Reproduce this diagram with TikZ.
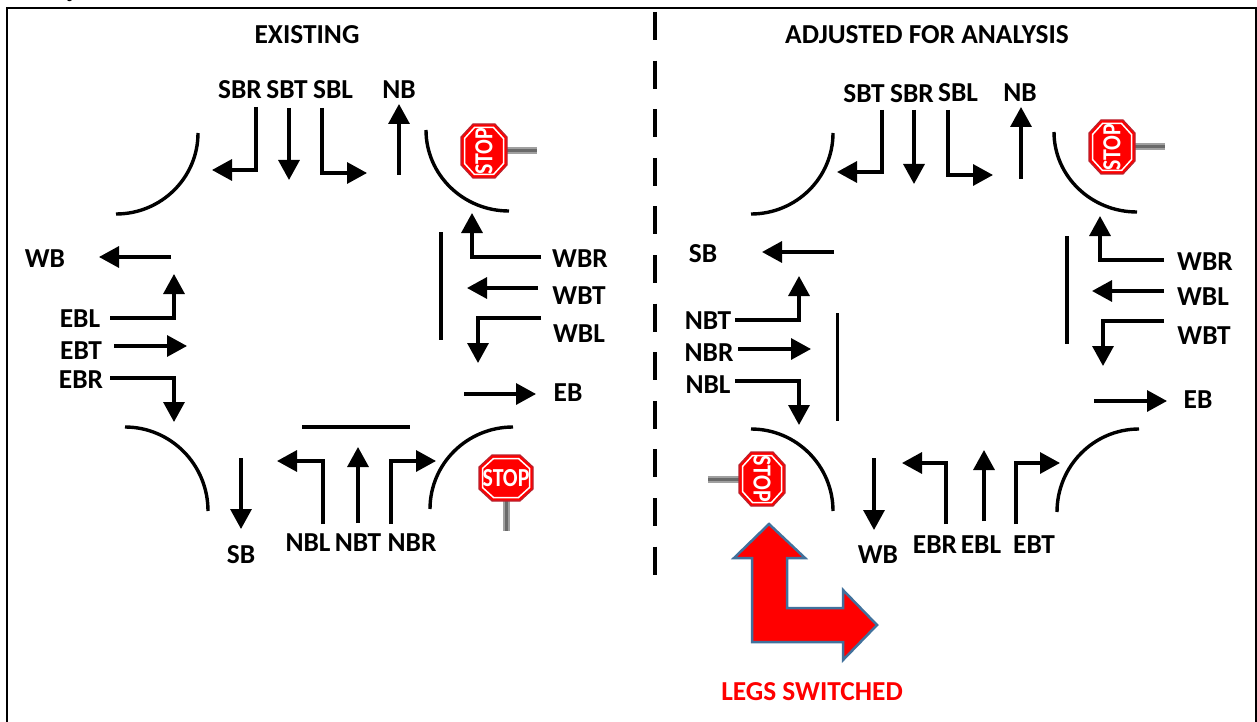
\documentclass[tikz,border=0pt]{standalone}
\usepackage{fontspec}
\setmainfont{Carlito}
\newfontfamily\timesf{Liberation Serif}
\usetikzlibrary{arrows.meta}
\definecolor{signred}{HTML}{FF0000}
\definecolor{signedge}{HTML}{B8232F}
\definecolor{postlight}{HTML}{A0A0A0}
\definecolor{postdark}{HTML}{6A6A6A}
\definecolor{arrowedge}{HTML}{41719C}
\tikzset{
  lab/.style={font=\fontsize{27.4}{27.4}\selectfont\bfseries,inner sep=0pt,text=black,yshift=-1pt},
  ar/.style={line width=3.3pt,-{Triangle[length=20pt,width=21pt]},line join=miter},
  curb/.style={line width=3.4pt},
  barline/.style={line width=3.4pt},
  postbase/.style={postlight,line width=7pt},
  postcore/.style={postdark,line width=3pt},
  stoppic/.pic={
    \draw[signedge,fill=signred,line width=1.2pt] (14,23) -- (27,11) -- (27,-11) -- (14,-23) -- (-14,-23) -- (-27,-11) -- (-27,11) -- (-14,23) -- cycle;
    \draw[white,line width=1.5pt] (12.5,19.5) -- (23.5,9.5) -- (23.5,-9.5) -- (12.5,-19.5) -- (-12.5,-19.5) -- (-23.5,-9.5) -- (-23.5,9.5) -- (-12.5,19.5) -- cycle;
    \node[transform shape,xscale=.84,text=white,inner sep=0pt,font=\fontsize{26}{26}\selectfont\bfseries] (-t) {STOP};
  }
}
\begin{document}
\begin{tikzpicture}[x=1pt,y=-1pt]
\useasboundingbox (0,0) rectangle (1257,722);
\begin{scope}
\clip (0,0) rectangle (1257,722);
\node[font=\timesf\fontsize{24}{24}\selectfont\bfseries,inner sep=0pt,anchor=base] (cut) at (73,-3) {y};
\draw[line width=2pt] (7,8) rectangle (1256,740);
\end{scope}
\draw[line width=4pt,dash pattern=on 28pt off 20.6pt] (655,12) -- (655,575);
% posts
\draw[postbase] (506,151) -- (537,151);
\draw[postcore] (506,151) -- (537,151);
\draw[postbase] (506,500) -- (506,531);
\draw[postcore] (506,500) -- (506,531);
\draw[postbase] (1134,147) -- (1165,147);
\draw[postcore] (1134,147) -- (1165,147);
\draw[postbase] (740,479) -- (708,479);
\draw[postcore] (740,479) -- (708,479);
% signs
\pic[rotate=90] at (484,151) {stoppic};
\pic at (506,478) {stoppic};
\pic[rotate=90] at (1112,147) {stoppic};
\pic[rotate=-90] at (762,479) {stoppic};
% curbs left
\draw[curb] (198,133) arc[start angle=0,end angle=90,x radius=82,y radius=81];
\draw[curb] (426,130) arc[start angle=180,end angle=90,x radius=83,y radius=81];
\draw[curb] (125,427) arc[start angle=-90,end angle=0,x radius=83,y radius=84];
\draw[curb] (430,509) arc[start angle=180,end angle=270,x radius=83,y radius=82];
% curbs right
\draw[curb] (833,133) arc[start angle=0,end angle=90,x radius=82,y radius=81];
\draw[curb] (1054,132) arc[start angle=180,end angle=90,x radius=83,y radius=80];
\draw[curb] (751,429) arc[start angle=-90,end angle=0,x radius=82,y radius=82];
\draw[curb] (1057,512) arc[start angle=180,end angle=270,x radius=82,y radius=83];
% bars
\draw[barline] (441,232) -- (441,340);
\draw[barline] (302,427) -- (410,427);
\draw[barline] (1067,236) -- (1067,344);
\draw[barline] (837.5,313) -- (837.5,421);
% arrows left
\draw[ar] (256,107) -- (256,170) -- (212,170);
\draw[ar] (289,108) -- (289,180);
\draw[ar] (322,108) -- (322,173) -- (367,173);
\draw[ar] (399,175) -- (399,104);
\draw[ar] (541,257) -- (472,257) -- (472,213);
\draw[ar] (538,288) -- (467,288);
\draw[ar] (541,318) -- (478,318) -- (478,363);
\draw[ar] (464,394) -- (536,394);
\draw[ar] (171,257) -- (99,257);
\draw[ar] (110,318) -- (174,318) -- (174,274);
\draw[ar] (114,346) -- (187,346);
\draw[ar] (110,378) -- (174,378) -- (174,422);
\draw[ar] (241,458) -- (241,529);
\draw[ar] (323,524) -- (323,461) -- (277,461);
\draw[ar] (358,523) -- (358,447);
\draw[ar] (391,524) -- (391,461) -- (436,461);
% arrows right
\draw[ar] (882,110) -- (882,172) -- (837,172);
\draw[ar] (914,110) -- (914,184);
\draw[ar] (948,110) -- (948,175) -- (993,175);
\draw[ar] (1021,179) -- (1021,107);
\draw[ar] (1164,260) -- (1100,260) -- (1100,216);
\draw[ar] (1164,291) -- (1092,291);
\draw[ar] (1164,321) -- (1103,321) -- (1103,366);
\draw[ar] (1094,401) -- (1167,401);
\draw[ar] (834,252) -- (762,252);
\draw[ar] (735,320) -- (799,320) -- (799,276);
\draw[ar] (738,349) -- (811,349);
\draw[ar] (735,381) -- (799,381) -- (799,425);
\draw[ar] (874,458) -- (874,530);
\draw[ar] (946,524) -- (946,463) -- (902,463);
\draw[ar] (984,521) -- (984,450);
\draw[ar] (1016,524) -- (1016,463) -- (1060,463);
% red arrow
\draw[arrowedge,fill=red,line width=2.5pt,line join=miter] (769,524) -- (805,558) -- (787,558) -- (787,608) -- (843,608) -- (843,590) -- (877,625) -- (843,660) -- (843,642) -- (752,642) -- (752,558) -- (734,558) -- cycle;
% labels
\node[lab] (t1) at (307,34) {EXISTING};
\node[lab] (t2) at (927,34) {ADJUSTED FOR ANALYSIS};
\node[lab] (a1) at (240,89) {SBR};
\node[lab] (a2) at (287,89) {SBT};
\node[lab] (a3) at (333,89) {SBL};
\node[lab] (a4) at (399,89) {NB};
\node[lab] (a5) at (580,258) {WBR};
\node[lab] (a6) at (579,295) {WBT};
\node[lab] (a7) at (579,333) {WBL};
\node[lab] (a8) at (568,392) {EB};
\node[lab] (a9) at (45,258) {WB};
\node[lab] (a10) at (80,318) {EBL};
\node[lab] (a11) at (81,350) {EBT};
\node[lab] (a12) at (81,379) {EBR};
\node[lab] (a13) at (241,554) {SB};
\node[lab] (a14) at (308,542) {NBL};
\node[lab] (a15) at (358,542) {NBT};
\node[lab] (a16) at (412,542) {NBR};
\node[lab] (b1) at (864,93) {SBT};
\node[lab] (b2) at (912,93) {SBR};
\node[lab] (b3) at (958,92) {SBL};
\node[lab] (b4) at (1020,92) {NB};
\node[lab] (b5) at (1205,261) {WBR};
\node[lab] (b6) at (1203,296) {WBL};
\node[lab] (b7) at (1204,335) {WBT};
\node[lab] (b8) at (1198,399) {EB};
\node[lab] (b9) at (703,253) {SB};
\node[lab] (b10) at (708,320) {NBT};
\node[lab] (b11) at (709,352) {NBR};
\node[lab] (b12) at (708,384) {NBL};
\node[lab] (b13) at (878,554) {WB};
\node[lab] (b14) at (935,544) {EBR};
\node[lab] (b15) at (981,544) {EBL};
\node[lab] (b16) at (1034,544) {EBT};
\node[lab,text=red] (legs) at (812,691) {LEGS SWITCHED};
\end{tikzpicture}
\end{document}
